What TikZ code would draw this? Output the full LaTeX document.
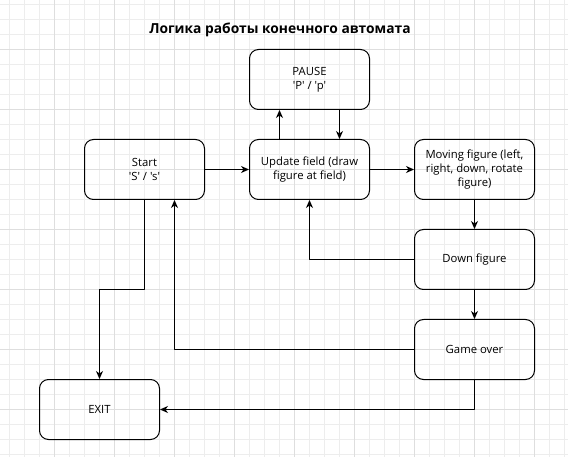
\documentclass[tikz,border=0pt]{standalone}
\usepackage{fontspec}
\setmainfont{Open Sans}[Ligatures=TeXOff]
\usetikzlibrary{arrows.meta}
\definecolor{gridminor}{rgb}{0.93,0.93,0.93}
\definecolor{gridmajor}{rgb}{0.87,0.87,0.87}

\begin{document}
\begin{tikzpicture}[line cap=round,line join=round,>={Stealth[length=8pt,width=7pt,inset=2.5pt]},
  x=1pt,y=-1pt,
  state/.style={draw,line width=1pt,rounded corners=9pt,minimum width=120pt,
    minimum height=60pt,inner sep=0pt,align=center,font=\fontsize{11.3}{14.3}\selectfont},
  flow/.style={->,line width=1pt}]
  \useasboundingbox (0,0) rectangle (568,457);
  \fill[white] (0,0) rectangle (568,457);
  % grid
  \foreach \x in {0,...,37} \draw[color=gridminor,line width=1pt]
  ({9.5+15*\x},0) -- ({9.5+15*\x},457); \foreach \y in {0,...,30}
  \draw[color=gridminor,line width=1pt] (0,{4.5+15*\y}) --
  (568,{4.5+15*\y}); \foreach \x in {0,...,8}
  \draw[color=gridmajor,line width=1pt] ({54.5+60*\x},0) --
  ({54.5+60*\x},457); \foreach \y in {0,...,6}
  \draw[color=gridmajor,line width=1pt] (0,{49.5+60*\y}) --
  (568,{49.5+60*\y});
  % states
  \node[font=\bfseries\fontsize{13.8}{16}\selectfont] (title) at (280,29.5)
  {Логика работы конечного автомата};
  \node[state] (pause) at (309.5,79.5) {PAUSE\\'P' / 'p'};
  \node[state] (start) at (144.5,169.5) {Start\\'S' / 's'};
  \node[state] (upd) at (309.5,169.5) {Update field (draw\\figure at field)};
  \node[state] (move) at (474.5,169.5) {Moving figure (left,\\right, down, rotate\\figure)};
  \node[state] (down) at (474.5,259.5) {Down figure};
  \node[state] (over) at (474.5,349.5) {Game over};
  \node[state] (exit) at (99.5,409.5) {EXIT};
  \coordinate (bend) at (144.5,289.5);
  % transitions
  \draw[flow] ([xshift=-30pt]upd.north) -- ([xshift=-30pt]pause.south);
  \draw[flow] ([xshift=30pt]pause.south) -- ([xshift=30pt]upd.north);
  \draw[flow] (start) -- (upd); \draw[flow] (upd) -- (move);
  \draw[flow] (move) -- (down); \draw[flow] (down) -- (over);
  \draw[flow] (down.west) -| (upd.south);
  \draw[flow] (start.south) -- (bend) -| (exit.north);
  \draw[flow] (over.west) -| ([xshift=30pt]start.south);
  \draw[flow] (over.south) |- (exit.east);
\end{tikzpicture}
\end{document}
